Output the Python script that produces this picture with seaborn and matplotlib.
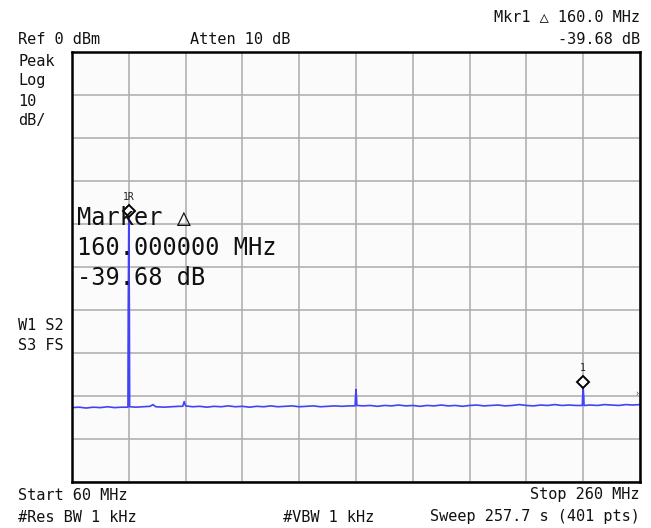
import matplotlib
matplotlib.use("Agg")
import matplotlib.pyplot as plt
import matplotlib.transforms as mtransforms
import seaborn as sns
import pandas as pd

# Spectrum analyser trace: frequency (MHz) and level (dBm)
freq_mhz = [
    60.0, 62.5, 65.0, 67.5, 70.0, 72.5, 75.0, 77.5, 79.7,
    79.8, 80.0, 80.2,
    80.3, 82.5, 85.0, 87.5, 88.5, 89.5, 92.5, 95.0, 97.5, 99.0,
    99.5,
    100.0, 102.5, 105.0, 107.5, 110.0, 112.5, 115.0, 117.5, 120.0,
    122.5, 125.0, 127.5, 130.0, 132.5, 135.0, 137.5, 140.0, 142.5,
    145.0, 147.5, 150.0, 152.5, 155.0, 157.5, 159.7,
    159.8, 160.0, 160.2,
    160.3, 162.5, 165.0, 167.5, 170.0, 172.5, 175.0, 177.5, 180.0,
    182.5, 185.0, 187.5, 190.0, 192.5, 195.0, 197.5, 200.0, 202.5,
    205.0, 207.5, 210.0, 212.5, 215.0, 217.5, 220.0, 222.5, 225.0,
    227.5, 230.0, 232.5, 235.0, 237.5, 239.7,
    239.8, 240.0, 240.2,
    240.3, 242.5, 245.0, 247.5, 250.0, 252.5, 255.0, 257.5, 260.0,
]
level_dbm = [
    -82.7, -82.6, -82.8, -82.6, -82.7, -82.5, -82.7, -82.6, -82.6,
    -60.7, -38.6, -60.7,
    -82.5, -82.6, -82.5, -82.4, -82.0, -82.5, -82.6, -82.5, -82.4, -82.4,
    -81.3,
    -82.3, -82.5, -82.4, -82.6, -82.4, -82.5, -82.3, -82.5, -82.4,
    -82.6, -82.4, -82.5, -82.3, -82.5, -82.4, -82.3, -82.5, -82.4,
    -82.3, -82.5, -82.4, -82.3, -82.4, -82.3, -82.3,
    -80.5, -78.5, -80.5,
    -82.2, -82.3, -82.2, -82.4, -82.2, -82.3, -82.1, -82.3, -82.2,
    -82.4, -82.2, -82.3, -82.1, -82.3, -82.2, -82.4, -82.2, -82.1,
    -82.3, -82.2, -82.1, -82.3, -82.2, -82.0, -82.2, -82.3, -82.1,
    -82.2, -82.0, -82.2, -82.1, -82.2, -82.2,
    -80.3, -78.28, -80.3,
    -82.2, -82.1, -82.2, -82.0, -82.1, -82.2, -82.0, -82.1, -82.0,
]

# Markers: reference (1R) and delta marker (1)
marker_freq = [80.0, 240.0]
marker_level = [-38.6, -78.28]
marker_names = ["1R", "1"]

x_ticks = [60, 80, 100, 120, 140, 160, 180, 200, 220, 240, 260]
y_ticks = [0, -10, -20, -30, -40, -50, -60, -70, -80, -90, -100]

sns.set_style("white")
plt.rcParams["font.family"] = ["DejaVu Sans Mono", "DejaVu Sans"]

trace = pd.DataFrame({"freq": freq_mhz, "level": level_dbm})

fig = plt.figure(figsize=(6.51, 5.28), dpi=100)
fig.patch.set_facecolor("white")
W, H = 651.0, 528.0
ax = fig.add_axes([72 / W, 1 - 482 / H, 568 / W, 430 / H])
ax.set_facecolor("#fbfbfb")

sns.lineplot(data=trace, x="freq", y="level", ax=ax, color="#4343f5",
             linewidth=1.2, zorder=3)

ax.set_xlim(x_ticks[0], x_ticks[-1])
ax.set_ylim(y_ticks[-1], y_ticks[0])
ax.set_xticks(x_ticks)
ax.set_yticks(y_ticks)
ax.set_xticklabels([])
ax.set_yticklabels([])
ax.tick_params(length=0)
ax.set_xlabel("")
ax.set_ylabel("")
ax.grid(True, color="#ababab", linewidth=1.1, zorder=1)
for s in ax.spines.values():
    s.set_color("black")
    s.set_linewidth(1.8)
    s.set_zorder(4)

# Marker diamonds (drawn just above the marked point) with their labels
lift = mtransforms.ScaledTranslation(0, 5 / 72, fig.dpi_scale_trans)
for f, lv, name in zip(marker_freq, marker_level, marker_names):
    ax.plot([f], [lv], marker="D", markersize=6, markerfacecolor="white",
            markeredgecolor="black", markeredgewidth=1.4, zorder=5,
            linestyle="none", transform=ax.transData + lift)
    ax.annotate(name, xy=(f, lv), xytext=(0, 15), textcoords="offset points",
                ha="center", va="center", fontsize=7, color="#222222", zorder=5)

# Off-screen trace indicator at the right edge
ax.annotate("\u203a", xy=(1.0, -79.5), xycoords=("axes fraction", "data"),
            xytext=(-2, 0), textcoords="offset points", ha="center",
            va="center", fontsize=6, color="#444444", zorder=5)

small = 11
txt = dict(fontsize=small, color="#111111")


def put(x, y, s, ha="left", **kw):
    d = dict(txt)
    d.update(kw)
    fig.text(x / W, 1 - y / H, s, ha=ha, va="center", **d)


put(640, 17, "Mkr1 \u25b3 160.0 MHz", ha="right")
put(18, 40, "Ref 0 dBm")
put(190, 40, "Atten 10 dB")
put(640, 40, "-39.68 dB", ha="right")
put(18, 61, "Peak")
put(18, 81, "Log")
put(18, 101, "10")
put(18, 121, "dB/")
put(18, 325, "W1 S2")
put(18, 346, "S3 FS")
put(18, 495, "Start 60 MHz")
put(640, 495, "Stop 260 MHz", ha="right")
put(18, 517, "#Res BW 1 kHz")
put(283, 517, "#VBW 1 kHz")
put(640, 517, "Sweep 257.7 s (401 pts)", ha="right")

# Active marker readout
big = dict(fontsize=17, color="#111111", zorder=6)
put(77, 218, "Marker \u25b3", **big)
put(77, 248, "160.000000 MHz", **big)
put(77, 278, "-39.68 dB", **big)

fig.savefig("out.png", dpi=100, facecolor="white")
